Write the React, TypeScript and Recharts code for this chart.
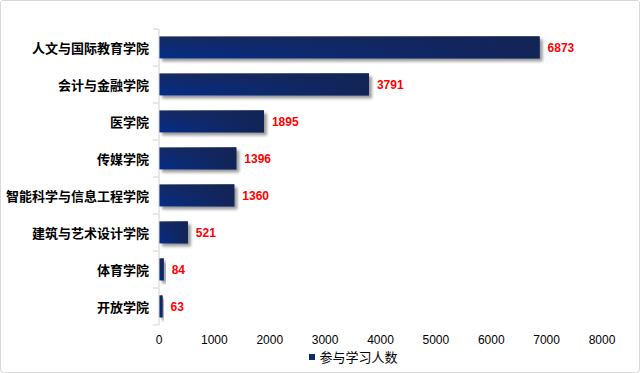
import { Bar, BarChart, LabelList, Legend, XAxis, YAxis } from "recharts";

const colleges = [
  "人文与国际教育学院",
  "会计与金融学院",
  "医学院",
  "传媒学院",
  "智能科学与信息工程学院",
  "建筑与艺术设计学院",
  "体育学院",
  "开放学院",
];
const participants = [6873, 3791, 1895, 1396, 1360, 521, 84, 63];
const xTicks = [0, 1000, 2000, 3000, 4000, 5000, 6000, 7000, 8000];
const seriesName = "参与学习人数";

const data = colleges.map((name, i) => ({ name, value: participants[i] }));

const BAND = 37;

function CollegeTick(props: any) {
  const { x, y, payload, index } = props;
  return (
    <g>
      <line x1={x + 2} x2={x + 7} y1={y - BAND / 2} y2={y - BAND / 2} stroke="#d0d0d0" />
      {index === colleges.length - 1 && (
        <line x1={x + 2} x2={x + 7} y1={y + BAND / 2} y2={y + BAND / 2} stroke="#d0d0d0" />
      )}
      <text
        x={x - 2}
        y={y}
        dy={5}
        textAnchor="end"
        fontSize={13}
        fontWeight="bold"
        fill="#000"
        fontFamily="'Noto Sans CJK SC', sans-serif"
      >
        {payload.value}
      </text>
    </g>
  );
}

function ShadedBar(props: any) {
  const { x, y, width, height } = props;
  if (!width || width <= 0) return null;
  return (
    <g>
      <rect x={x} y={y} width={width} height={height} fill="#555" filter="url(#barShadow)" />
      <rect x={x} y={y} width={width} height={height} fill="url(#barBase)" />
      <rect x={x} y={y} width={width} height={height} fill="url(#barFade)" />
    </g>
  );
}

function LegendContent() {
  return (
    <div
      style={{
        display: "flex",
        alignItems: "center",
        justifyContent: "center",
        paddingLeft: 104,
        fontFamily: "'Noto Sans CJK SC', sans-serif",
        fontSize: 13,
        color: "#000",
        lineHeight: "16px",
      }}
    >
      <span style={{ width: 6, height: 6, background: "#0f2a6b", marginRight: 4 }} />
      {seriesName}
    </div>
  );
}

export default function App() {
  return (
    <div
      style={{
        position: "relative",
        width: 640,
        height: 373,
        boxSizing: "border-box",
        border: "1px solid #d9d9d9",
        borderRadius: 3,
        background: "#fff",
      }}
    >
      <style>{`body{margin:0}`}</style>
      <BarChart
        width={638}
        height={371}
        data={data}
        layout="vertical"
        barCategoryGap="20%"
        margin={{ top: 28, right: 37, left: 0, bottom: 3 }}
        style={{ position: "absolute", left: 0, top: 0 }}
      >
        <defs>
          <linearGradient id="barBase" x1="0" y1="0" x2="0" y2="1">
            <stop offset="0%" stopColor="#182a5e" />
            <stop offset="45%" stopColor="#0d2b75" />
            <stop offset="100%" stopColor="#052d88" />
          </linearGradient>
          <linearGradient id="barFade" x1="0" y1="0" x2="1" y2="0">
            <stop offset="0%" stopColor="#132456" stopOpacity={0} />
            <stop offset="100%" stopColor="#132456" stopOpacity={1} />
          </linearGradient>
          <filter id="barShadow" x="-20%" y="-30%" width="150%" height="180%">
            <feGaussianBlur stdDeviation="1.8" />
            <feOffset dx="3" dy="3" result="b" />
            <feComponentTransfer>
              <feFuncA type="linear" slope="0.6" />
            </feComponentTransfer>
          </filter>
        </defs>
        <XAxis
          type="number"
          domain={[0, 8000]}
          ticks={xTicks}
          axisLine={false}
          tickLine={false}
          height={24}
          tick={{ fill: "#000", fontSize: 12, fontFamily: "'Liberation Sans', Arial, sans-serif" }}
          tickMargin={4}
        />
        <YAxis
          type="category"
          dataKey="name"
          width={158}
          axisLine={{ stroke: "#d0d0d0" }}
          tickLine={false}
          tick={<CollegeTick />}
        />
        <Legend
          verticalAlign="bottom"
          height={20}
          content={<LegendContent />}
        />
        <Bar
          dataKey="value"
          name={seriesName}
          fill="#0f2a6b"
          shape={<ShadedBar />}
          isAnimationActive={false}
        >
          <LabelList
            dataKey="value"
            position="right"
            offset={8}
            fill="#ff0000"
            fontSize={12}
            fontWeight="bold"
            fontFamily="'Liberation Sans', Arial, sans-serif"
          />
        </Bar>
      </BarChart>
    </div>
  );
}
